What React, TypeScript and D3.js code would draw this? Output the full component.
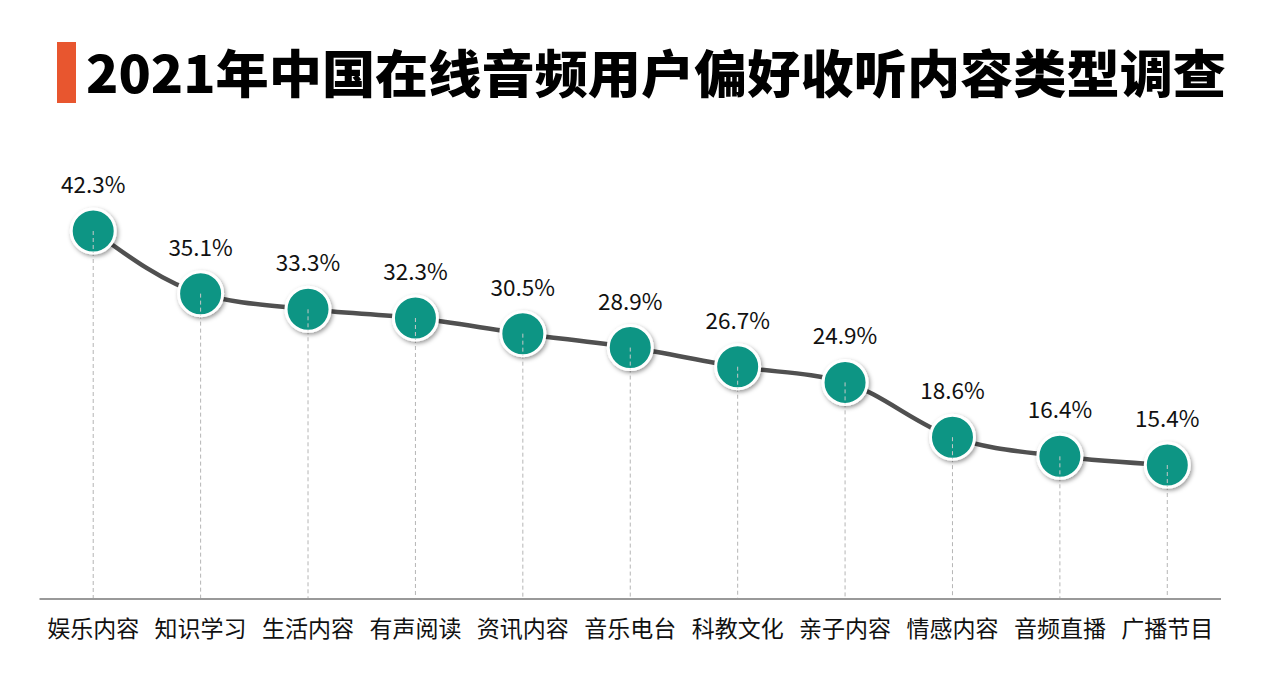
import React from "react";
import * as d3 from "d3";

const categories = ["娱乐内容", "知识学习", "生活内容", "有声阅读", "资讯内容", "音乐电台", "科教文化", "亲子内容", "情感内容", "音频直播", "广播节目"];
const values = [42.3, 35.1, 33.3, 32.3, 30.5, 28.9, 26.7, 24.9, 18.6, 16.4, 15.4];
const title = "2021年中国在线音频用户偏好收听内容类型调查";

const W = 1263;
const H = 677;

export default function App() {
  const x = d3.scaleBand<string>().domain(categories).range([39.5, 1221]);
  const y = d3.scaleLinear().domain([0, 42.3]).range([599, 231]);
  const cx = (c: string) => (x(c) as number) + x.bandwidth() / 2;
  const pts: [number, number][] = categories.map((c, i) => [cx(c), y(values[i])]);
  const line = d3.line().curve(d3.curveMonotoneX)(pts) as string;
  const font = "'Noto Sans CJK SC', 'Noto Sans', sans-serif";
  return (
    <svg width={W} height={H} style={{ position: "absolute", left: 0, top: 0, background: "#fff" }}>
      <defs>
        <filter id="sh" x="-50%" y="-50%" width="200%" height="200%">
          <feDropShadow dx="1.5" dy="2" stdDeviation="2" floodColor="#000" floodOpacity="0.4" />
        </filter>
      </defs>
      <rect x={57} y={42} width={19} height={61} fill="#E8562F" />
      <text x={86} y={93} fontFamily={font} fontWeight={900} fontSize={51} fill="#000" textLength={1140} lengthAdjust="spacingAndGlyphs">
        {title}
      </text>
      {categories.map((c, i) => (
        <line key={"d" + i} x1={cx(c)} x2={cx(c)} y1={y(values[i])} y2={y(0)} stroke="#b5b5b5" strokeWidth={1} strokeDasharray="4,3" />
      ))}
      <line x1={39.5} x2={1221} y1={y(0)} y2={y(0)} stroke="#999" strokeWidth={2} />
      <path d={line} fill="none" stroke="#505050" strokeWidth={4.5} />
      {categories.map((c, i) => (
        <g key={"p" + i}>
          <circle cx={cx(c)} cy={y(values[i])} r={22} fill="#0E9584" stroke="#fff" strokeWidth={3} filter="url(#sh)" />
          <line x1={cx(c)} x2={cx(c)} y1={y(values[i])} y2={y(values[i]) + 22} stroke="#c8c8c8" strokeWidth={1} strokeDasharray="4,3" />
          <text x={cx(c)} y={y(values[i]) - 38} textAnchor="middle" fontFamily={font} fontSize={22.5} fill="#111">
            {values[i].toFixed(1)}%
          </text>
          <text x={cx(c)} y={637} textAnchor="middle" fontFamily={font} fontSize={23} fill="#111">
            {c}
          </text>
        </g>
      ))}
    </svg>
  );
}
